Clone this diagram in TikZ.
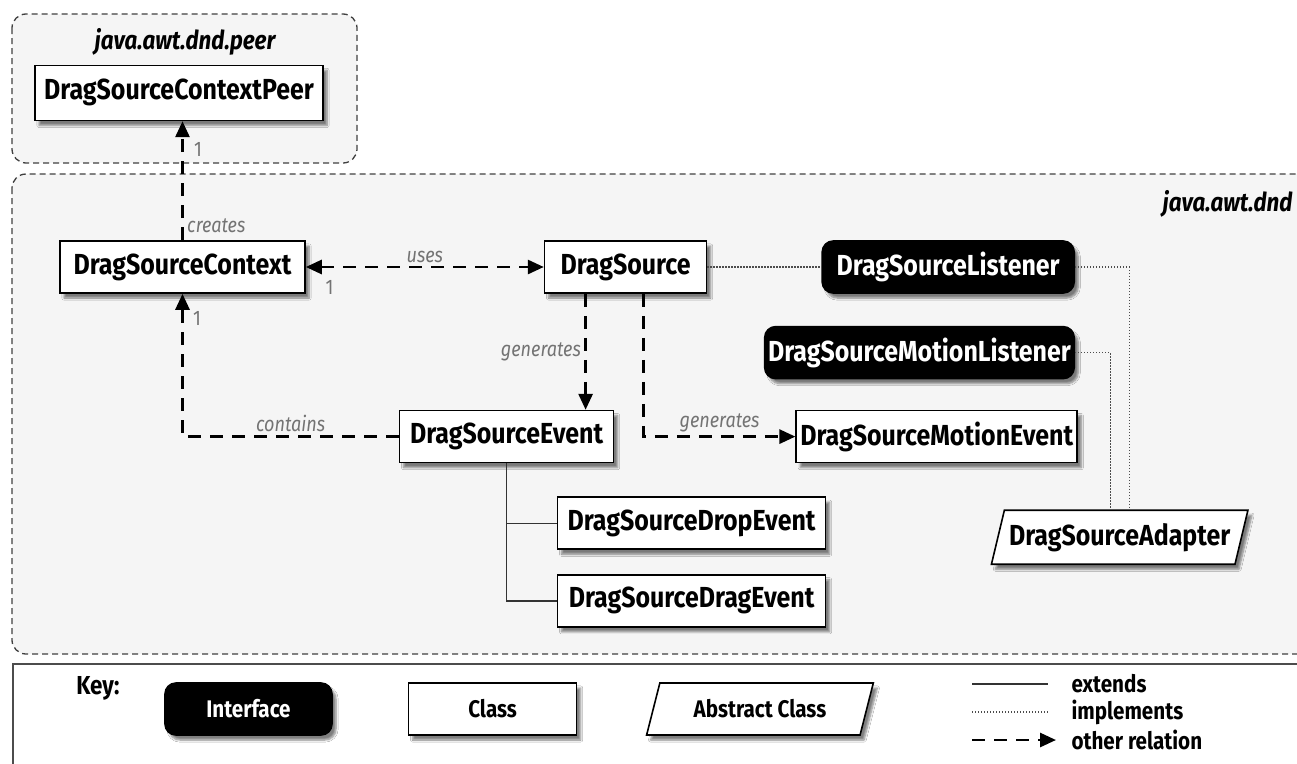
\documentclass[tikz,border=0pt]{standalone}
\usepackage{fontspec}
\setmainfont{Fira Sans}[FakeStretch=0.86]
\usetikzlibrary{shapes.geometric, positioning, arrows.meta, shadows.blur}
\tikzset{
  pkg/.style={draw=black!75, dash pattern=on 6pt off 4pt, line width=1.3pt, rounded corners=14pt, fill=black!4},
  pkgname/.style={font=\fontsize{26}{28}\selectfont\bfseries\itshape},
  cls/.style={rectangle, draw=black, line width=1.6pt, fill=white, text centered, minimum height=52pt, font=\fontsize{29}{31}\selectfont\bfseries, blur shadow={shadow xshift=4pt, shadow yshift=-5pt, shadow opacity=50, shadow blur steps=6}},
  iface/.style={cls, fill=black, text=white, rounded corners=11pt},
  abscls/.style={cls, trapezium, trapezium left angle=70, trapezium right angle=110, trapezium stretches=true},
  keybox/.style={font=\fontsize{24}{26}\selectfont\bfseries},
  rel/.style={line width=2.8pt, dash pattern=on 13pt off 9pt, >={Triangle[length=16pt,width=14pt]}},
  impl/.style={line width=1.4pt, dash pattern=on 1.3pt off 1.7pt, black!70},
  ext/.style={line width=1.4pt, black!80},
  lbl/.style={font=\fontsize{21}{23}\selectfont\itshape, text=black!55},
  mult/.style={font=\fontsize{21}{23}\selectfont, text=black!55}
}
\begin{document}
\begin{tikzpicture}[x=1pt, y=-1pt]
  \useasboundingbox (0,0) rectangle (1297,763);

  % packages
  \draw [pkg] (12,14) rectangle (357,163);
  \draw [pkg] (12,174) rectangle (1330,654);
  \node (peerpkg) [pkgname] at (185,42) {java.awt.dnd.peer};
  \node (dndpkg) [pkgname, anchor=east] at (1296,204) {java.awt.dnd};

  % classes
  \node (ctx) [cls, minimum width=245pt] at (182.5,267) {DragSourceContext};
  \node (peer) [cls, minimum width=288pt, minimum height=55pt, above=119pt of ctx, xshift=-3.5pt] {DragSourceContextPeer};
  \node (src) [cls, minimum width=162pt, right=238pt of ctx] {DragSource};
  \node (lst) [iface, minimum width=252pt, right=114pt of src] {DragSourceListener};
  \node (mlst) [iface, minimum width=302pt, below=32pt of lst.south east, anchor=north east] {DragSourceMotionListener};
  \node (evt) [cls, minimum width=214pt, below=116pt of src, xshift=-119pt] {DragSourceEvent};
  \node (mevt) [cls, minimum width=281pt, right=181pt of evt] {DragSourceMotionEvent};
  \node (drop) [cls, minimum width=268pt, below=33pt of evt, xshift=185pt] {DragSourceDropEvent};
  \node (drag) [cls, minimum width=268pt, below=24pt of drop] {DragSourceDragEvent};
  \node (adp) [abscls, minimum width=257pt, minimum height=54pt, below=46pt of mevt, xshift=183pt] {DragSourceAdapter};

  % relations
  \draw [rel, ->] (ctx.north) -- node[pos=0.12, right, lbl] {creates} node[pos=0.76, right=7pt, mult] {1} (ctx.north |- peer.south);
  \draw [rel, <->] (ctx.east) -- node[midway, above, lbl] {uses} node[pos=0.1, below=9pt, mult] {1} (src.west);
  \draw [rel, ->] ([xshift=-40pt]src.south) -- node[midway, left, lbl] {generates} ([xshift=-40pt]src.south |- evt.north);
  \draw [rel, ->] ([xshift=18pt]src.south) |- node[pos=0.75, above, lbl] {generates} (mevt.west);
  \draw [rel, ->] (evt.west) -- node[midway, above, lbl] {contains} (ctx.south |- evt.west) -- node[pos=0.83, right=6pt, mult] {1} (ctx.south);

  % implements
  \draw [impl] (src.east) -- (lst.west);
  \draw [impl] (lst.east) -| ([xshift=9.5pt]adp.north);
  \draw [impl] (mlst.east) -| ([xshift=-9.5pt]adp.north);

  % extends
  \draw [ext] (evt.south) |- (drop.west);
  \draw [ext] (evt.south) |- (drag.west);

  % key
  \draw [line width=1.6pt, black!70, fill=white] (13,664) rectangle (1330,800);
  \node (key) [font=\fontsize{26}{28}\selectfont\bfseries] at (98,688) {Key:};
  \node (kiface) [iface, keybox, minimum width=167pt] at (248.5,709) {Interface};
  \node (kcls) [cls, keybox, minimum width=168pt, right=75pt of kiface] {Class};
  \node (kabs) [abscls, keybox, minimum width=227pt, right=75pt of kcls] {Abstract Class};

  \coordinate (extA) at (972,684);
  \coordinate (extB) at (1048,684);
  \coordinate (impA) at (972,712);
  \coordinate (impB) at (1048,712);
  \coordinate (othA) at (972,740);
  \coordinate (othB) at (1056,740);
  \draw [ext] (extA) -- (extB);
  \draw [impl] (impA) -- (impB);
  \draw [rel, ->] (othA) -- (othB);
  \node (kext) [keybox, anchor=west] at (1068,684) {extends};
  \node (kimp) [keybox, anchor=west] at (1068,712) {implements};
  \node (koth) [keybox, anchor=west] at (1068,740) {other relation};
\end{tikzpicture}
\end{document}
